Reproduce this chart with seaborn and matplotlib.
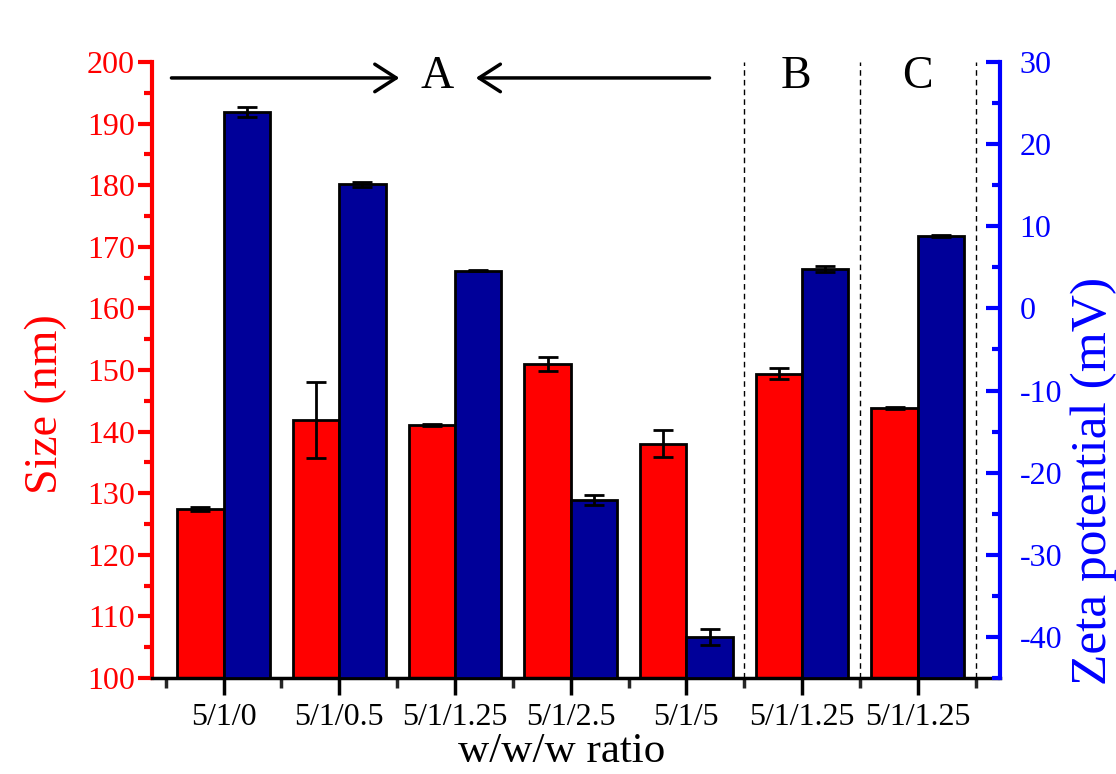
import numpy as np
import seaborn as sns
import matplotlib
matplotlib.use("Agg")
import matplotlib.pyplot as plt
from matplotlib.ticker import MultipleLocator, FixedLocator

# data
ratios = ["5/1/0", "5/1/0.5", "5/1/1.25", "5/1/2.5", "5/1/5", "5/1/1.25", "5/1/1.25"]
size_nm = [127.4, 141.9, 141.1, 151.0, 138.0, 149.4, 143.8]
size_err = [0.3, 6.2, 0.2, 1.1, 2.2, 0.9, 0.2]
zeta_mv = [23.9, 15.1, 4.6, -23.3, -40.0, 4.8, 8.8]
zeta_err = [0.6, 0.3, 0.1, 0.6, 1.0, 0.4, 0.1]

RED = "#ff0000"
NAVY = "#000099"
BLUE = "#0000ff"
zeta_min, zeta_max = -45, 30

sns.set_style("ticks")
plt.rcParams["font.family"] = ["Liberation Serif", "DejaVu Serif"]
plt.rcParams["axes.unicode_minus"] = False
plt.rcParams["text.color"] = "black"

fig = plt.figure(figsize=(11.16, 7.74), dpi=100)
ax1 = fig.add_axes([0.136, 0.124, 0.760, 0.796])
ax2 = ax1.twinx()

pos = np.arange(len(ratios))

sns.barplot(x=pos - 0.2, y=size_nm, native_scale=True, orient="x", width=0.4,
            color=RED, saturation=1, edgecolor="black", linewidth=2,
            errorbar=None, ax=ax1)
ax1.errorbar(pos - 0.2, size_nm, yerr=size_err, fmt="none", ecolor="black",
             elinewidth=2, capsize=7, capthick=2, zorder=5)

sns.barplot(x=pos + 0.2, y=zeta_mv, native_scale=True, orient="x", width=0.4,
            color=NAVY, saturation=1, edgecolor="black", linewidth=2,
            errorbar=None, ax=ax2)
# zeta bars rise from the bottom of the axis, not from zero
for p, v in zip(ax2.patches, zeta_mv):
    p.set_y(zeta_min)
    p.set_height(v - zeta_min)
ax2.errorbar(pos + 0.2, zeta_mv, yerr=zeta_err, fmt="none", ecolor="black",
             elinewidth=2, capsize=7, capthick=2, zorder=5)

ax1.set_xlim(-0.62, 6.71)
ax1.set_ylim(100, 200)
ax2.set_ylim(zeta_min, zeta_max)

# group separators
for xs in [4.5, 5.5, 6.5]:
    ax1.axvline(xs, color="black", lw=1, ls=(0, (4, 3)), zorder=0)

# group annotations
arrow = dict(arrowstyle="->,head_length=0.7,head_width=0.45", lw=2.5,
             color="black", mutation_scale=22, shrinkA=0, shrinkB=0)
ax1.annotate("", xy=(1.52, 197.4), xytext=(-0.45, 197.4), arrowprops=arrow)
ax1.annotate("", xy=(2.18, 197.4), xytext=(4.2, 197.4), arrowprops=arrow)
for label, xt in zip(["A", "B", "C"], [1.85, 4.95, 6.0]):
    ax1.text(xt, 197.6, label, fontsize=33, ha="center", va="center", color="black")

# x axis
ax1.set_xticks(pos)
ax1.set_xticklabels(ratios, fontsize=23)
ax1.xaxis.set_minor_locator(FixedLocator(np.arange(-0.5, 7, 1)))
ax1.tick_params(axis="x", which="major", length=12, width=2.5, direction="out",
                pad=6, colors="black")
ax1.tick_params(axis="x", which="minor", length=7, width=2.5, direction="out")
ax1.set_xlabel("w/w/w ratio", fontsize=31, color="black")
ax1.xaxis.set_label_coords(0.483, -0.088)

# left axis
ax1.yaxis.set_major_locator(MultipleLocator(10))
ax1.yaxis.set_minor_locator(MultipleLocator(5))
ax1.tick_params(axis="y", which="both", colors=RED, width=3, direction="out",
                labelsize=23, pad=2)
ax1.tick_params(axis="y", which="major", length=10)
ax1.tick_params(axis="y", which="minor", length=6)
ax1.set_ylabel("Size (nm)", fontsize=33, color=RED)
ax1.yaxis.set_label_coords(-0.100, 0.445)

# right axis
ax2.yaxis.set_major_locator(MultipleLocator(10))
ax2.yaxis.set_minor_locator(MultipleLocator(5))
ax2.tick_params(axis="y", which="both", colors=BLUE, width=3, direction="in",
                labelsize=23, pad=14)
ax2.tick_params(axis="y", which="major", length=10)
ax2.tick_params(axis="y", which="minor", length=6)
ax2.set_ylabel("Zeta potential (mV)", fontsize=37, color=BLUE)
ax2.yaxis.set_label_coords(1.083, 0.32)

# spines
for ax in (ax1, ax2):
    ax.spines["top"].set_visible(False)
ax1.spines["right"].set_visible(False)
ax2.spines["left"].set_visible(False)
ax2.spines["bottom"].set_visible(False)
ax1.spines["left"].set_color(RED)
ax1.spines["left"].set_linewidth(3)
ax2.spines["right"].set_color(BLUE)
ax2.spines["right"].set_linewidth(3)
ax1.spines["bottom"].set_color("black")
ax1.spines["bottom"].set_linewidth(2.5)

fig.savefig("out.png", dpi=100, facecolor="white")
